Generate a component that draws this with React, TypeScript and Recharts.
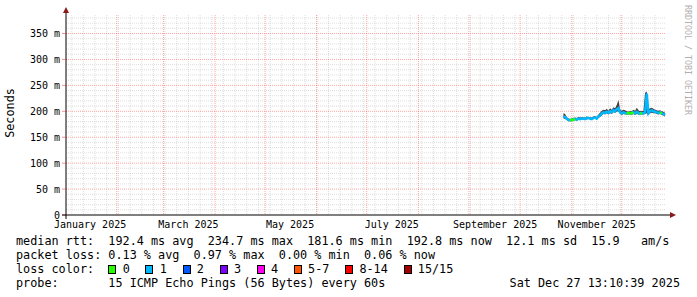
import { ComposedChart, Area, Line, XAxis, YAxis, CartesianGrid } from "recharts";

// daily medians from the first day with data
const seriesStart = "2025-10-27";
const medianMs = [
  190, 189, 186, 183, 183, 183, 184, 185, 184, 186,
  185, 186, 186, 185, 187, 187, 186, 185, 187, 188,
  186, 190, 192, 196, 198, 197, 199, 197, 200, 198,
  202, 200, 204, 206, 198, 196, 198, 197, 196, 196,
  197, 196, 198, 196, 199, 197, 195, 197, 196, 198,
  234, 196, 200, 202, 200, 199, 198, 197, 198, 196,
  195, 193,
];
const smokeLowMs = [
  186, 185, 183, 181, 181, 181, 182, 183, 182, 183,
  183, 184, 184, 183, 184, 185, 184, 183, 185, 185,
  184, 187, 189, 192, 195, 194, 196, 194, 196, 195,
  198, 197, 199, 200, 195, 193, 195, 194, 194, 194,
  194, 193, 195, 193, 195, 194, 193, 194, 194, 195,
  196, 193, 196, 197, 196, 196, 195, 194, 195, 193,
  192, 190,
];
const smokeHighMs = [
  196, 195, 189, 186, 185, 186, 187, 188, 187, 189,
  188, 189, 188, 188, 190, 189, 189, 188, 190, 191,
  189, 194, 197, 201, 203, 202, 205, 201, 206, 203,
  208, 206, 212, 222, 204, 201, 203, 202, 200, 199,
  201, 200, 203, 201, 207, 202, 200, 201, 200, 236,
  238, 204, 206, 207, 205, 203, 202, 201, 202, 200,
  199, 197,
];
const lossCount = [
  1, 1, 1, 1, 0, 0, 0, 0, 1, 1,
  1, 1, 1, 1, 1, 1, 1, 1, 1, 1,
  1, 1, 1, 1, 1, 1, 1, 1, 1, 1,
  1, 1, 1, 1, 1, 1, 1, 1, 0, 0,
  0, 0, 0, 1, 1, 1, 0, 0, 1, 1,
  1, 1, 1, 1, 1, 1, 1, 1, 0, 0,
  1, 1,
];

const xTickDates = ["2025-01-16", "2025-03-16", "2025-05-16", "2025-07-16", "2025-09-16", "2025-11-16"];
const xTickLabels = ["January 2025", "March 2025", "May 2025", "July 2025", "September 2025", "November 2025"];
const monthStarts = [
  "2025-02-01", "2025-03-01", "2025-04-01", "2025-05-01", "2025-06-01", "2025-07-01",
  "2025-08-01", "2025-09-01", "2025-10-01", "2025-11-01", "2025-12-01",
];
const yTicks = [0, 50, 100, 150, 200, 250, 300, 350];

const lossLabels = ["0", "1", "2", "3", "4", "5-7", "8-14", "15/15"];
const lossColors = ["#26ff00", "#00b8ff", "#0059ff", "#7e00ff", "#ff00f0", "#ff5500", "#ff0000", "#a10000"];

const MONO = "'DejaVu Sans Mono', monospace";

const toDay = (s: string) => {
  const [y, m, d] = s.split("-").map(Number);
  return (Date.UTC(y, m - 1, d) - Date.UTC(2025, 0, 1)) / 86400000;
};

const startDay = toDay(seriesStart);
const data = medianMs.map((v, i) => ({
  day: startDay + i,
  median: v,
  smoke: [smokeLowMs[i], smokeHighMs[i]],
  green: lossCount[i] === 0 ? v : null,
}));

// time window: last 360 days ending Dec 27 13:10
const xDomain = [0.55, 360.55];
const weekLines: number[] = [];
for (let d = toDay("2025-01-05"); d < 361; d += 7) weekLines.push(d);
const monthLines = monthStarts.map(toDay);
const minorH: number[] = [];
for (let v = 10; v < 386; v += 10) if (v % 50 !== 0) minorH.push(v);
const majorH = yTicks.filter((v) => v > 0);

const row = (top: number): React.CSSProperties => ({
  position: "absolute",
  left: 16,
  top,
  fontFamily: MONO,
  fontSize: 11.8,
  lineHeight: "14px",
  whiteSpace: "pre",
  color: "#000",
});

export default function App() {
  return (
    <div style={{ position: "absolute", left: 0, top: 0, width: 697, height: 297, background: "#fff" }}>
      <ComposedChart width={697} height={297} data={data} margin={{ top: 15, right: 31, bottom: 52, left: 6 }}>
        <CartesianGrid
          horizontalValues={minorH}
          verticalValues={weekLines}
          stroke="rgba(160,160,160,0.35)"
          strokeDasharray="1 1"
        />
        <CartesianGrid
          horizontalValues={majorH}
          verticalValues={monthLines}
          stroke="rgba(255,32,32,0.4)"
          strokeDasharray="1 1"
        />
        <XAxis
          type="number"
          dataKey="day"
          domain={xDomain}
          allowDataOverflow
          ticks={xTickDates.map(toDay)}
          tickFormatter={(v) => xTickLabels[xTickDates.map(toDay).indexOf(v)] ?? ""}
          height={30}
          tickSize={0}
          tickMargin={6}
          tickLine={false}
          axisLine={{ stroke: "#000" }}
          tick={{ fontSize: 10, fontFamily: MONO, fill: "#000" }}
          interval={0}
        />
        <YAxis
          type="number"
          domain={[0, 385.7]}
          allowDataOverflow
          ticks={yTicks}
          tickFormatter={(v) => (v === 0 ? "0" : `${v} m`)}
          width={60}
          tickSize={4}
          tickMargin={2}
          tickLine={{ stroke: "rgba(255,32,32,0.5)" }}
          axisLine={{ stroke: "#000" }}
          tick={{ fontSize: 10, fontFamily: MONO, fill: "#000" }}
          interval={0}
        />
        <Area type="linear" dataKey="smoke" stroke="none" fill="#222" fillOpacity={0.85} isAnimationActive={false} />
        <Line type="linear" dataKey="median" stroke="#00b8ff" strokeWidth={2.5} dot={false} isAnimationActive={false} />
        <Line type="linear" dataKey="green" stroke="#26ff00" strokeWidth={2.5} dot={false} connectNulls={false} isAnimationActive={false} />
      </ComposedChart>

      <svg width={697} height={297} style={{ position: "absolute", left: 0, top: 0, pointerEvents: "none" }}>
        <line x1={66} y1={15} x2={66} y2={10} stroke="#000" />
        <line x1={66} y1={215} x2={66} y2={219} stroke="#000" />
        <line x1={666} y1={215} x2={671} y2={215} stroke="#000" />
        <line x1={62} y1={215} x2={66} y2={215} stroke="#000" />
        <polygon points="63,13 69,13 66,7" fill="#8b1a1a" />
        <polygon points="670,212 670,218 676,215" fill="#8b1a1a" />
      </svg>

      <div
        style={{
          position: "absolute",
          left: 10,
          top: 113,
          transform: "translate(-50%, -50%) rotate(-90deg)",
          fontFamily: MONO,
          fontSize: 11.8,
          whiteSpace: "pre",
          color: "#000",
        }}
      >
        Seconds
      </div>

      <div
        style={{
          position: "absolute",
          left: 688,
          top: 60,
          transform: "translate(-50%, -50%) rotate(90deg)",
          fontFamily: MONO,
          fontSize: 8.3,
          whiteSpace: "pre",
          color: "#b0b0b0",
        }}
      >
        RRDTOOL / TOBI OETIKER
      </div>

      <div style={row(234)}>median rtt:  192.4 ms avg  234.7 ms max  181.6 ms min  192.8 ms now  12.1 ms sd  15.9   am/s</div>
      <div style={row(248)}>packet loss: 0.13 % avg  0.97 % max  0.00 % min  0.06 % now</div>
      <div style={{ ...row(262), display: "flex", alignItems: "center" }}>
        <span style={{ width: "13ch", display: "inline-block" }}>loss color:</span>
        {lossLabels.map((l, i) => (
          <span key={l} style={{ display: "inline-flex", alignItems: "center" }}>
            <span
              style={{
                display: "inline-block",
                width: 6,
                height: 7,
                border: "1px solid #000",
                background: lossColors[i],
                marginRight: 6.3,
              }}
            />
            <span style={{ marginRight: 15.7 }}>{l}</span>
          </span>
        ))}
      </div>
      <div style={row(276)}>probe:       15 ICMP Echo Pings (56 Bytes) every 60s</div>
      <div style={{ ...row(276), left: "auto", right: 17 }}>Sat Dec 27 13:10:39 2025</div>
    </div>
  );
}
